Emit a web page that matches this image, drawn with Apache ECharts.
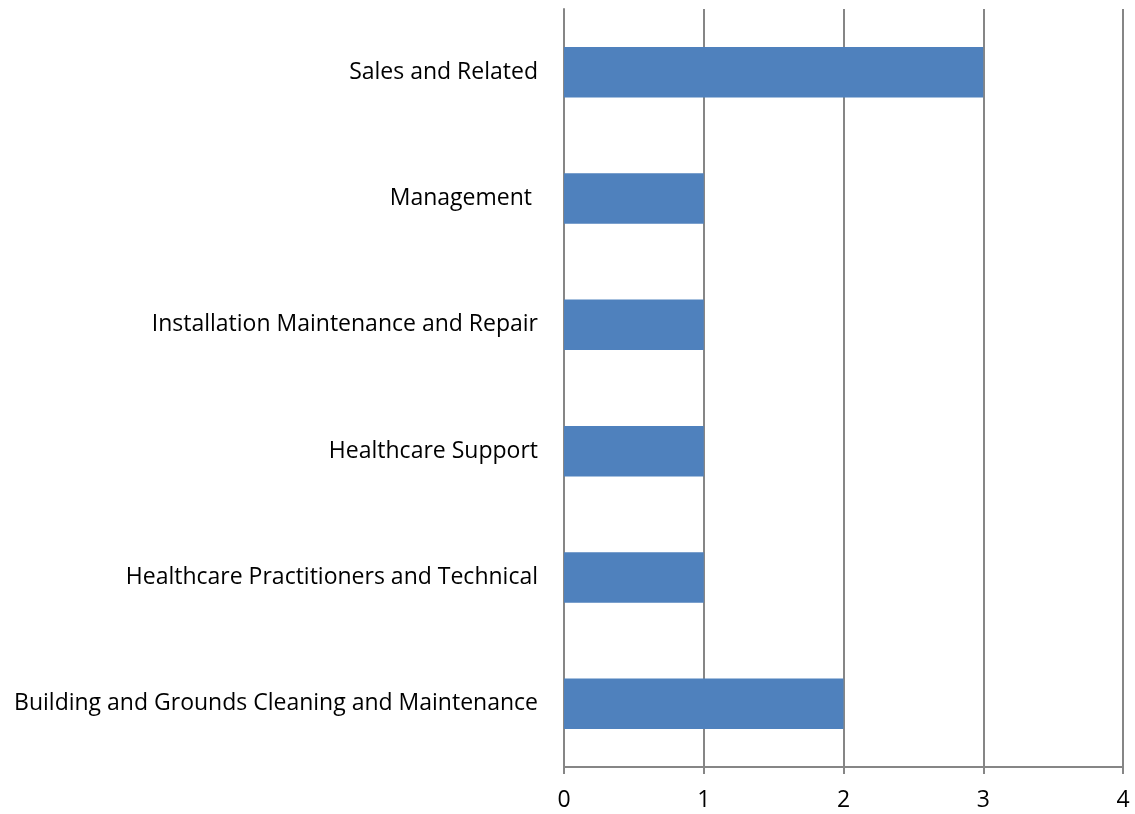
<!DOCTYPE html>
<html lang="en">
<head>
 <meta charset="UTF-8">
 <title>Occupations</title>
 <style>html,body{margin:0;padding:0;background:#fff;}</style>
</head>
<body>
 <div id="main" style="width: 1135px;height:814px;"></div>
 <script src="https://cdn.jsdelivr.net/npm/echarts@6/dist/echarts.min.js"></script>
 <script type="text/javascript">
// categories listed bottom to top
var categories = [
    'Building and Grounds Cleaning and Maintenance',
    'Healthcare Practitioners and Technical',
    'Healthcare Support',
    'Installation Maintenance and Repair',
    'Management ',
    'Sales and Related'
];
var counts = [2, 1, 1, 1, 1, 3];
var xTicks = [0, 1, 2, 3, 4];

var myChart = echarts.init(document.getElementById('main'));
var font = 'Open Sans';

myChart.setOption({
    backgroundColor: '#fff',
    animation: false,
    grid: { left: 564, right: 12, top: 9, bottom: 47 },
    xAxis: {
        type: 'value',
        min: xTicks[0],
        max: xTicks[xTicks.length - 1],
        interval: 1,
        axisLine: { show: true, lineStyle: { color: '#868686', width: 2 } },
        axisTick: { show: true, length: 7, lineStyle: { color: '#868686', width: 2 } },
        splitLine: { show: true, lineStyle: { color: '#868686', width: 2 } },
        axisLabel: { color: '#000', fontSize: 23, fontFamily: font, margin: 22 }
    },
    yAxis: {
        type: 'category',
        data: categories,
        axisLine: { show: true, lineStyle: { color: '#868686', width: 2 } },
        axisTick: { show: false },
        axisLabel: { color: '#000', fontSize: 23, fontFamily: font, margin: 26, padding: [2, 0, 0, 0] }
    },
    series: [{
        type: 'bar',
        data: counts,
        barCategoryGap: '60%',
        itemStyle: { color: '#4f81bd' }
    }]
});
 </script>
</body>
</html>
